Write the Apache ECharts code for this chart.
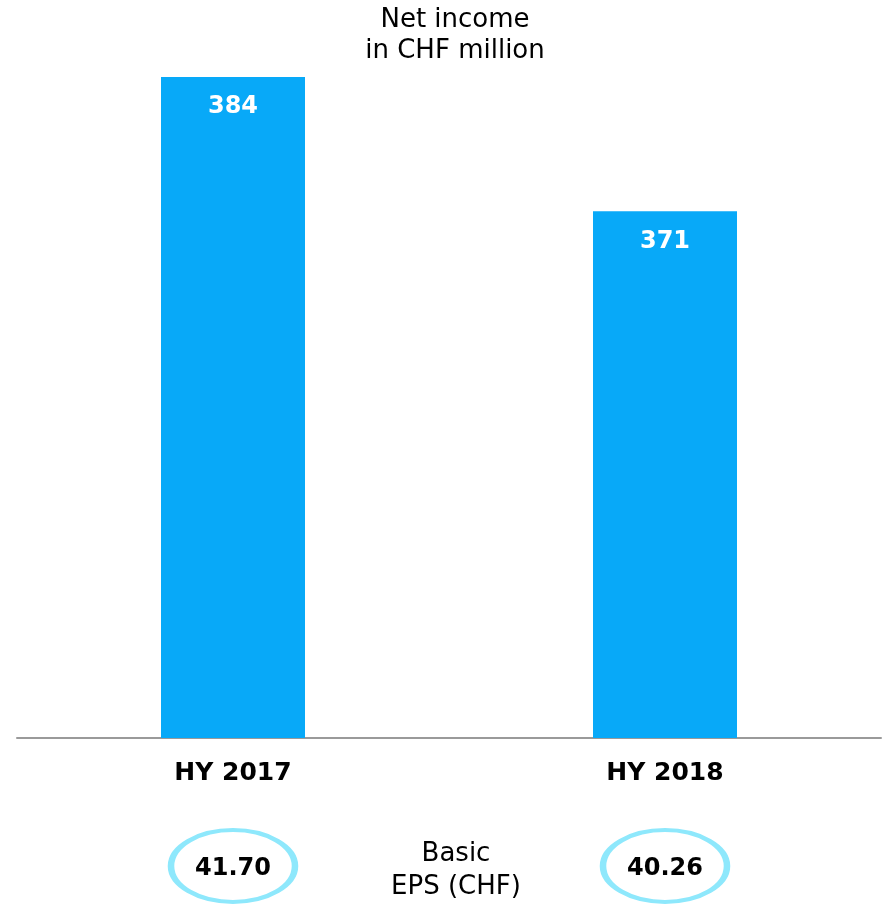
<!DOCTYPE html>
<html>
<head>
<meta charset="utf-8">
<script src="https://cdn.jsdelivr.net/npm/echarts@6/dist/echarts.min.js"></script>
<style>html,body{margin:0;padding:0;background:#fff}#c{width:882px;height:905px}</style>
</head>
<body>
<div id="c"></div>
<script>
const categories = ['HY 2017', 'HY 2018'];
const netIncome = [384, 371];
const eps = ['41.70', '40.26'];
const titleLines = ['Net income', 'in CHF million'];
const epsTitle = ['Basic', 'EPS (CHF)'];

const FONT = '"DejaVu Sans", Verdana, sans-serif';
const chart = echarts.init(document.getElementById('c'), null, {renderer: 'canvas'});
chart.setOption({
  animation: false,
  backgroundColor: '#fff',
  title: [
    {text: titleLines.join('\n'), left: 455, top: 5, padding: 0, textAlign: 'center',
     textStyle: {fontFamily: FONT, fontWeight: 'normal', fontSize: 26, color: '#000', lineHeight: 31}},
    {text: epsTitle.join('\n'), left: 456, top: 838, padding: 0, textAlign: 'center',
     textStyle: {fontFamily: FONT, fontWeight: 'normal', fontSize: 26, color: '#000', lineHeight: 33}}
  ],
  grid: [
    {left: 17, width: 864, top: 77, height: 661},
    {left: 17, width: 864, top: 846, height: 40}
  ],
  xAxis: [
    {type: 'category', gridIndex: 0, data: categories,
     axisLine: {lineStyle: {color: '#9a9a9a', width: 2}},
     axisTick: {show: false},
     axisLabel: {margin: 23, fontFamily: FONT, fontWeight: 'bold', fontSize: 25, color: '#000'}},
    {type: 'category', gridIndex: 1, data: categories, show: false}
  ],
  yAxis: [
    {type: 'value', gridIndex: 0, min: 320, max: 384, show: false, splitLine: {show: false}},
    {type: 'value', gridIndex: 1, min: 0, max: 1, show: false, splitLine: {show: false}}
  ],
  series: [
    {type: 'bar', xAxisIndex: 0, yAxisIndex: 0, data: netIncome, barWidth: 144,
     itemStyle: {color: '#08a9f8'},
     label: {show: true, position: 'insideTop', distance: 18, color: '#fff',
       fontFamily: FONT, fontWeight: 'bold', fontSize: 24}},
    {type: 'scatter', xAxisIndex: 1, yAxisIndex: 1, clip: false,
     data: eps.map((v, i) => ({value: [i, 0.5], label: {formatter: v}})),
     symbol: 'circle', symbolSize: [124, 72],
     itemStyle: {color: '#fff', borderColor: '#8ee8fc', borderWidth: 5, opacity: 1},
     label: {show: true, position: 'inside', offset: [0, 3], color: '#000', fontFamily: FONT, fontWeight: 'bold', fontSize: 24}}
  ]
});
</script>
</body>
</html>
